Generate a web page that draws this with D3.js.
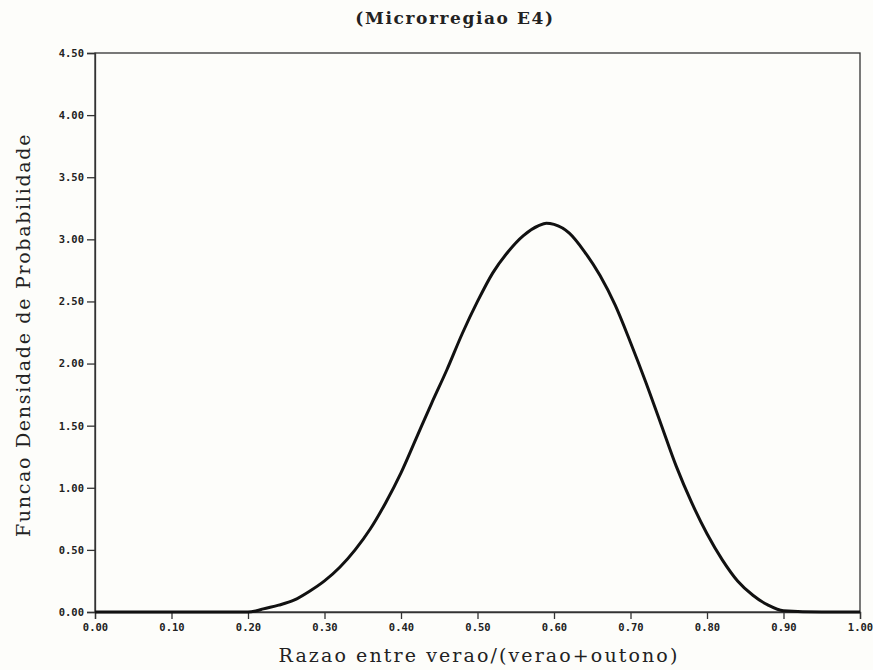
<!DOCTYPE html>
<html>
<head>
<meta charset="utf-8">
<script src="https://cdn.jsdelivr.net/npm/d3@7"></script>
<style>
  html, body { margin: 0; padding: 0; background: #fdfdfa; }
  svg { display: block; }
</style>
</head>
<body>
<div id="chart"></div>
<script>
// Data
const ratio = [0.00, 0.05, 0.10, 0.15, 0.20, 0.21, 0.22, 0.24, 0.26, 0.28, 0.30, 0.32, 0.34, 0.36, 0.38,
  0.40, 0.42, 0.44, 0.46, 0.48, 0.50, 0.52, 0.54, 0.56, 0.58, 0.59, 0.60, 0.62, 0.64, 0.66, 0.68,
  0.70, 0.72, 0.74, 0.76, 0.78, 0.80, 0.82, 0.84, 0.86, 0.88, 0.90, 0.95, 1.00];
const density = [0.00, 0.00, 0.00, 0.00, 0.00, 0.008, 0.025, 0.055, 0.095, 0.165, 0.25, 0.36, 0.50, 0.67, 0.88,
  1.12, 1.40, 1.68, 1.95, 2.24, 2.50, 2.73, 2.90, 3.03, 3.11, 3.13, 3.12, 3.05, 2.90, 2.71, 2.47,
  2.17, 1.85, 1.51, 1.17, 0.88, 0.63, 0.42, 0.25, 0.135, 0.055, 0.01, 0.00, 0.00];
const xTicks = [0.0, 0.1, 0.2, 0.3, 0.4, 0.5, 0.6, 0.7, 0.8, 0.9, 1.0];
const yTicks = [0.0, 0.5, 1.0, 1.5, 2.0, 2.5, 3.0, 3.5, 4.0, 4.5];
const titleText = "(Microrregiao E4)";
const xLabel = "Razao entre verao/(verao+outono)";
const yLabel = "Funcao Densidade de Probabilidade";

const W = 873, H = 670;
const m = { left: 95, right: 13, top: 53, bottom: 58 };

const svg = d3.select("#chart").append("svg").attr("width", W).attr("height", H);
svg.append("rect").attr("width", W).attr("height", H).attr("fill", "#fdfdfa");

const x = d3.scaleLinear().domain([0, 1]).range([m.left, W - m.right]);
const y = d3.scaleLinear().domain([0, 4.5]).range([H - m.bottom, m.top]);

// frame
svg.append("rect")
  .attr("x", x(0)).attr("y", y(4.5))
  .attr("width", x(1) - x(0)).attr("height", y(0) - y(4.5))
  .attr("fill", "none").attr("stroke", "#333").attr("stroke-width", 1.3);

const tickFont = "'DejaVu Sans Mono', 'Liberation Mono', monospace";

const xAxis = svg.append("g").attr("transform", `translate(0,${y(0)})`)
  .call(d3.axisBottom(x).tickValues(xTicks).tickFormat(d3.format(".2f")).tickSize(7).tickPadding(5));
const yAxis = svg.append("g").attr("transform", `translate(${x(0)},0)`)
  .call(d3.axisLeft(y).tickValues(yTicks).tickFormat(d3.format(".2f")).tickSize(8).tickPadding(3));

[xAxis, yAxis].forEach(g => {
  g.select(".domain").attr("stroke", "#333").attr("stroke-width", 1.3);
  g.selectAll(".tick line").attr("stroke", "#333").attr("stroke-width", 1.3);
  g.selectAll(".tick text")
    .attr("font-family", tickFont).attr("font-size", 10.5).attr("font-weight", "bold")
    .attr("fill", "#222");
});

// curve
const pts = ratio.map((r, i) => [r, density[i]]);
svg.append("path")
  .datum(pts)
  .attr("fill", "none")
  .attr("stroke", "#111")
  .attr("stroke-width", 3)
  .attr("stroke-linejoin", "round")
  .attr("d", d3.line().x(d => x(d[0])).y(d => y(d[1])).curve(d3.curveMonotoneX));

const serif = "'DejaVu Serif', 'Liberation Serif', serif";

// title
svg.append("text")
  .attr("x", 455).attr("y", 24)
  .attr("text-anchor", "middle")
  .attr("font-family", serif)
  .attr("font-weight", "bold").attr("font-size", 17)
  .attr("letter-spacing", 1.6)
  .attr("fill", "#222")
  .text(titleText);

// x label
svg.append("text")
  .attr("x", 479).attr("y", 662)
  .attr("text-anchor", "middle")
  .attr("font-family", serif)
  .attr("font-size", 19)
  .attr("letter-spacing", 2.1)
  .attr("fill", "#222")
  .text(xLabel);

// y label
svg.append("text")
  .attr("transform", "translate(30,335) rotate(-90)")
  .attr("text-anchor", "middle")
  .attr("font-family", serif)
  .attr("font-size", 19)
  .attr("letter-spacing", 1.7)
  .attr("fill", "#222")
  .text(yLabel);
</script>
</body>
</html>
